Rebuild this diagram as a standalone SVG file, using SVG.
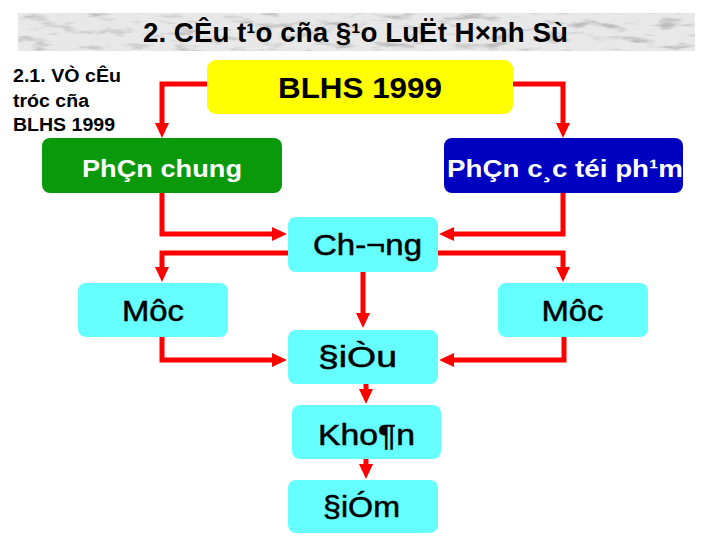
<svg xmlns="http://www.w3.org/2000/svg" width="720" height="540" viewBox="0 0 720 540">
<style>
  text { font-family: "Liberation Sans", Arial, sans-serif; }
  .title { font-size: 27px; font-weight: bold; fill: #000; }
  .side { font-size: 18px; font-weight: bold; fill: #000; }
  .yl { font-size: 30px; font-weight: bold; fill: #000; }
  .wt { font-size: 24px; font-weight: bold; fill: #fff; }
  .cy { font-size: 29px; fill: #000; stroke: #000; stroke-width: 0.5; }
  .cyan { fill: #66FFFF; }
  .conn { fill: none; stroke: #FF0000; stroke-width: 5; stroke-linejoin: miter; marker-end: url(#ah); }
</style>
<defs>
  <marker id="ah" viewBox="0 0 15 14" refX="1" refY="7" markerWidth="15" markerHeight="14" markerUnits="userSpaceOnUse" orient="auto">
    <path d="M0,0 L15,7 L0,14 z" fill="#FF0000"/>
  </marker>
  <filter id="marble" x="0" y="0" width="100%" height="100%">
    <feTurbulence type="fractalNoise" baseFrequency="0.035 0.14" numOctaves="4" seed="7" result="n"/>
    <feColorMatrix in="n" type="matrix" values="0 0 0 0 0.5  0 0 0 0 0.5  0 0 0 0 0.5  -3.5 0 0 0 1.65" result="g"/>
    <feComposite in="g" in2="SourceGraphic" operator="in" result="m"/>
    <feMerge><feMergeNode in="SourceGraphic"/><feMergeNode in="m"/></feMerge>
  </filter>
</defs>
<rect width="720" height="540" fill="#fff"/>

<g id="title">
  <rect x="18" y="13" width="677" height="38" fill="#e8e8e8" filter="url(#marble)"/>
  <text class="title" x="355.5" y="42" text-anchor="middle" textLength="425" lengthAdjust="spacingAndGlyphs">2. CÊu t¹o cña §¹o LuËt H×nh Sù</text>
</g>

<g id="side-label">
  <text class="side" x="13" y="82" textLength="108" lengthAdjust="spacingAndGlyphs">2.1. VÒ cÊu</text>
  <text class="side" x="13" y="107" textLength="76" lengthAdjust="spacingAndGlyphs">tróc cña</text>
  <text class="side" x="13" y="131" textLength="102" lengthAdjust="spacingAndGlyphs">BLHS 1999</text>
</g>

<g id="connectors">
  <path class="conn" d="M207,84 H162 V124"/>
  <path class="conn" d="M513,84 H563 V124"/>
  <path class="conn" d="M162,193 V234 H273"/>
  <path class="conn" d="M563,193 V234 H453"/>
  <path class="conn" d="M288,253 H162 V268"/>
  <path class="conn" d="M438,253 H563 V268"/>
  <path class="conn" d="M363,272 V314"/>
  <path class="conn" d="M162,337 V360 H273"/>
  <path class="conn" d="M564,337 V360 H453"/>
  <path class="conn" d="M366,384 V390"/>
  <path class="conn" d="M366,459 V465"/>
</g>

<g id="blhs">
  <rect x="207" y="60" width="306" height="54" rx="9" fill="#FFFF00"/>
  <text class="yl" x="360" y="98" text-anchor="middle" textLength="164" lengthAdjust="spacingAndGlyphs">BLHS 1999</text>
</g>

<g id="phan-chung">
  <rect x="42" y="138" width="240" height="55" rx="8" fill="#0A990A"/>
  <text class="wt" x="162" y="177" text-anchor="middle" textLength="160" lengthAdjust="spacingAndGlyphs">PhÇn chung</text>
</g>

<g id="phan-cac-toi-pham">
  <rect x="444" y="138" width="239" height="55" rx="8" fill="#0000C0"/>
  <text class="wt" x="565" y="177" text-anchor="middle" textLength="236" lengthAdjust="spacingAndGlyphs">PhÇn c¸c téi ph¹m</text>
</g>

<g id="chuong">
  <rect class="cyan" x="288" y="217" width="150" height="55" rx="8"/>
  <text class="cy" x="367.5" y="255" text-anchor="middle" textLength="109" lengthAdjust="spacingAndGlyphs">Ch-¬ng</text>
</g>

<g id="muc-left">
  <rect class="cyan" x="78" y="283" width="150" height="54" rx="8"/>
  <text class="cy" x="153" y="321" text-anchor="middle" textLength="62" lengthAdjust="spacingAndGlyphs">Môc</text>
</g>

<g id="muc-right">
  <rect class="cyan" x="498" y="283" width="150" height="54" rx="8"/>
  <text class="cy" x="572.5" y="321" text-anchor="middle" textLength="62" lengthAdjust="spacingAndGlyphs">Môc</text>
</g>

<g id="dieu">
  <rect class="cyan" x="288" y="330" width="150" height="54" rx="8"/>
  <text class="cy" x="357.5" y="367" text-anchor="middle" textLength="79" lengthAdjust="spacingAndGlyphs">§iÒu</text>
</g>

<g id="khoan">
  <rect class="cyan" x="292" y="405" width="149" height="54" rx="8"/>
  <text class="cy" x="366.5" y="445" text-anchor="middle" textLength="97" lengthAdjust="spacingAndGlyphs">Kho¶n</text>
</g>

<g id="diem">
  <rect class="cyan" x="288" y="480" width="150" height="53" rx="8"/>
  <text class="cy" x="361.5" y="517" text-anchor="middle" textLength="77" lengthAdjust="spacingAndGlyphs">§iÓm</text>
</g>
</svg>
